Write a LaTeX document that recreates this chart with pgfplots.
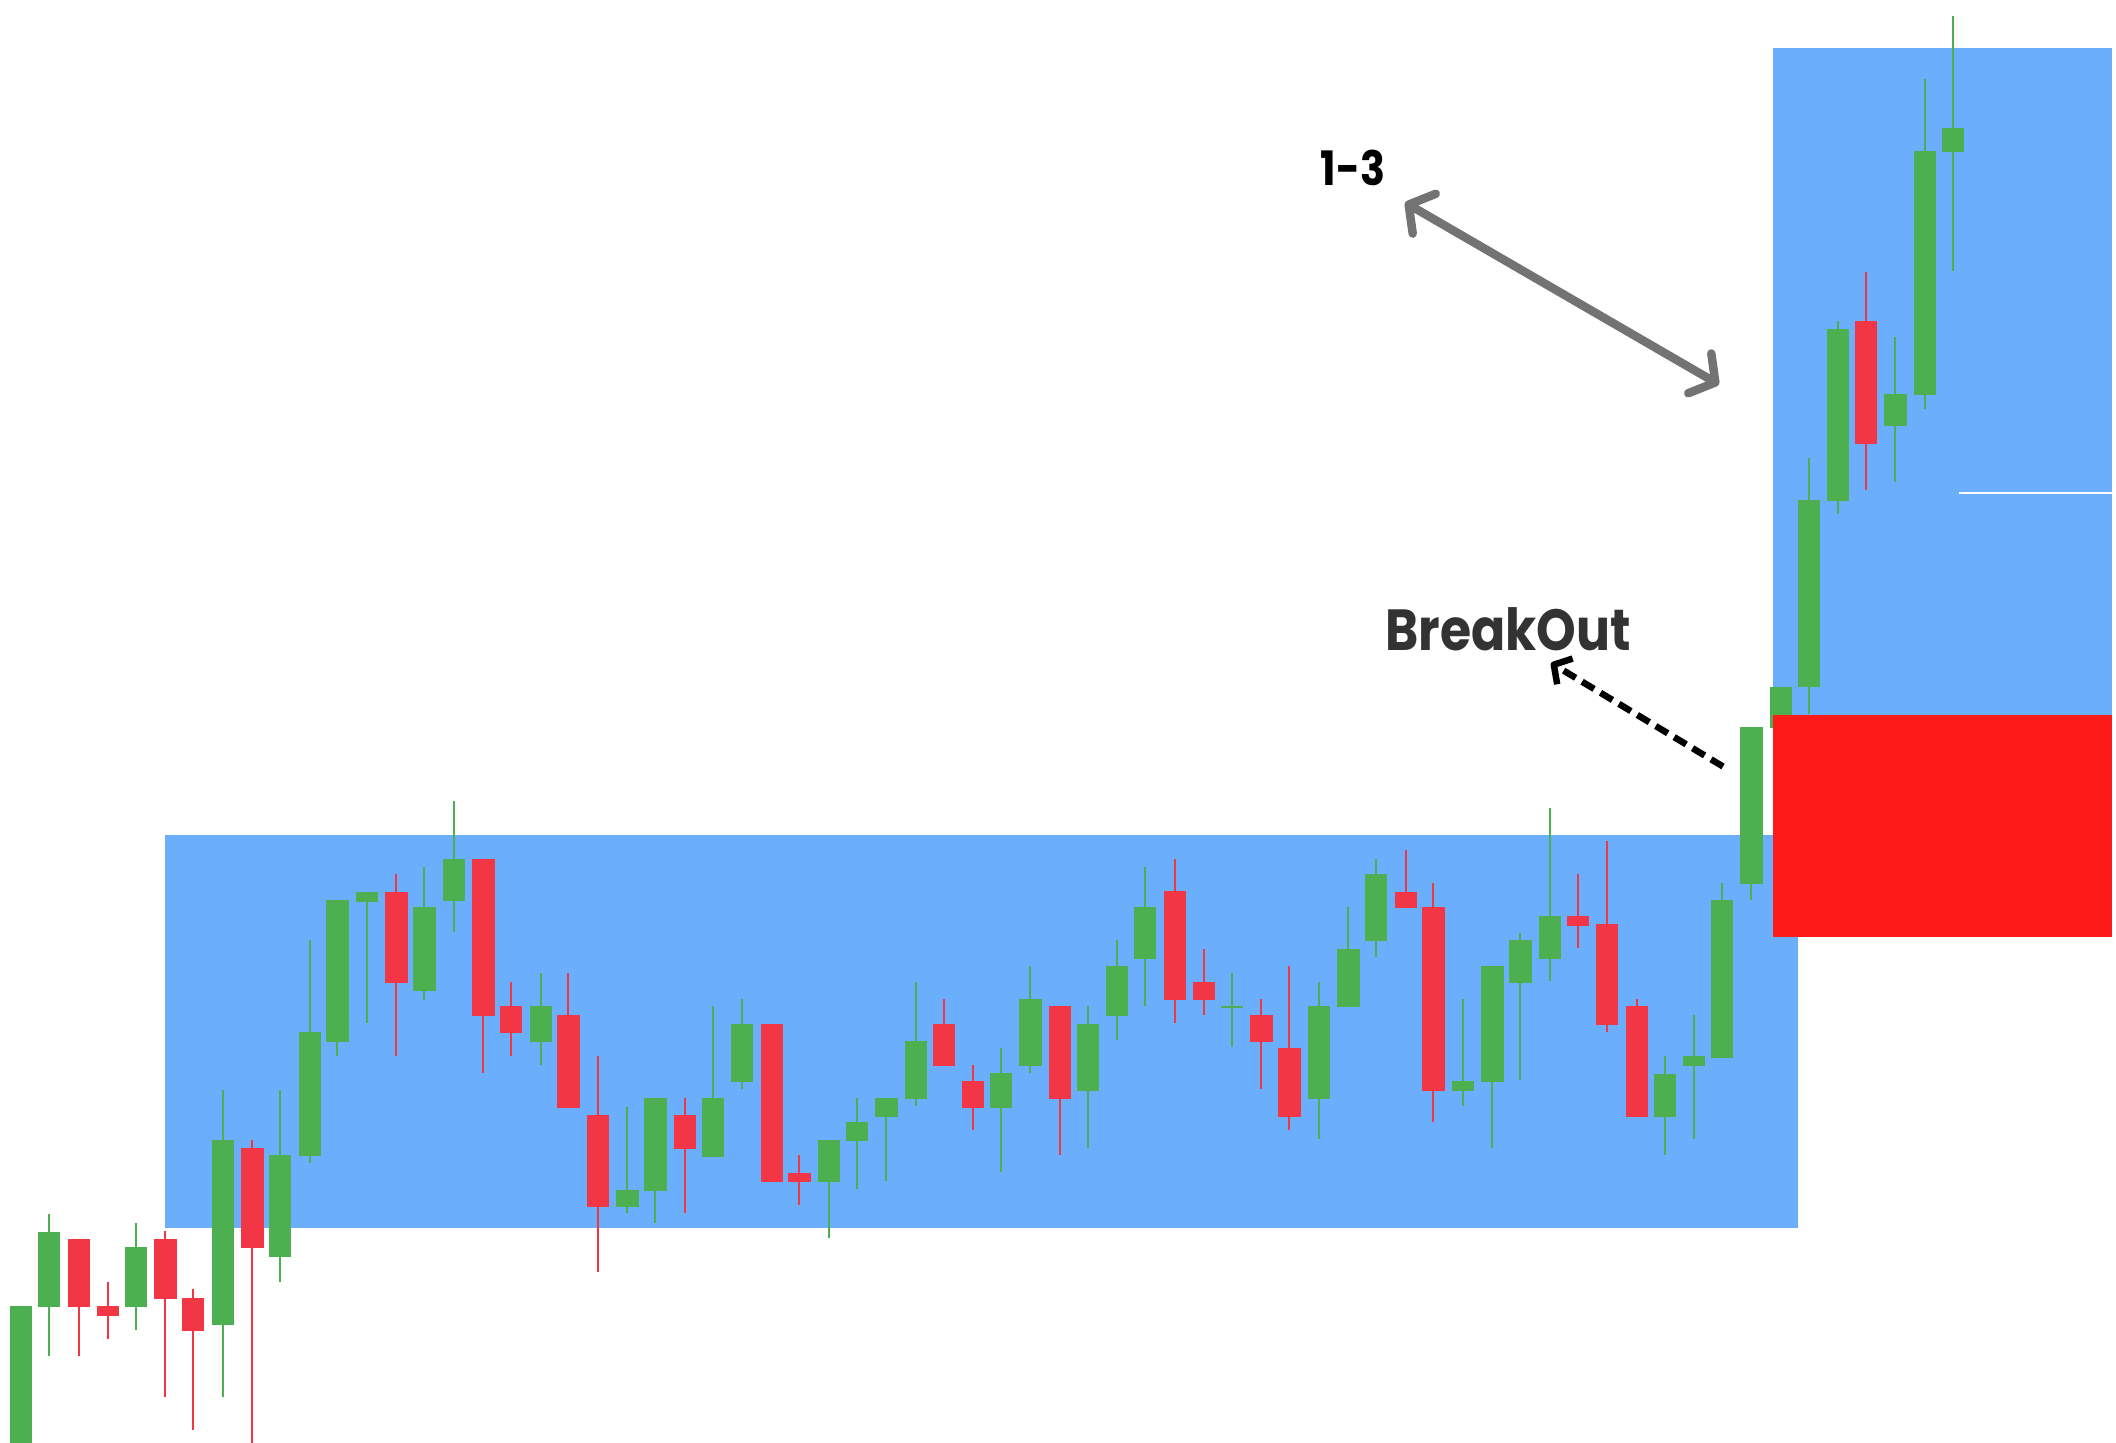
\documentclass[border=0pt]{standalone}
\usepackage{pgfplots}
\pgfplotsset{compat=1.18}
\usepackage{pgfplotstable}
\usepackage{fontspec}
\usetikzlibrary{arrows.meta}
\newfontfamily\poppins{Poppins}[FakeStretch=0.87]
\definecolor{cgreen}{RGB}{76,175,80}
\definecolor{cred}{RGB}{242,54,69}
\definecolor{boxblue}{RGB}{107,174,251}
\definecolor{boxred}{RGB}{255,26,26}
\definecolor{arrgray}{RGB}{115,115,115}
\definecolor{txtdark}{RGB}{51,51,51}

% pixel-space candles: x, high, body top, body bottom, low (y grows downward)
\pgfplotstableread{
x h bt bb l
21 1306 1306 1450 1450
49 1214 1232 1307 1356
135.7 1222.5 1247 1307 1329.7
222.7 1089.5 1139.7 1324.6 1397
280 1089.5 1155 1257 1281.6
309.7 940.4 1032 1156 1163
337.3 900 900 1042 1055.7
366.7 891.5 891.5 901.6 1022.8
424.3 867.3 907 991.3 1000
453.7 801.3 858.7 901.3 932.3
540.7 973 1006 1042 1064.7
627.3 1106.7 1190 1206.7 1213.3
655.3 1098 1098 1191 1222.7
712.7 1006 1098 1156.7 1156.7
742 999 1023.7 1081.7 1088.7
829 1139.7 1139.7 1182.3 1238
856.7 1098 1122 1140.7 1189.3
886.3 1098 1098 1116.7 1181
915.7 981.7 1040.7 1099.3 1106
1001 1047.7 1073.3 1108 1172
1030.3 966 999 1066 1073.3
1087.7 1006 1023.7 1090.7 1147.7
1117 940.3 966 1016 1040
1145 867.3 907 959 1005.7
1232 973.3 1005.5 1007.5 1047.3
1319 981.7 1006 1099.3 1139
1348.3 907 949 1007.3 1007.3
1376 858.7 874.3 941.3 956.7
1463 999 1080.7 1090.7 1106
1492.3 966 966 1082 1147.7
1520.3 933.3 940.3 983 1080
1549.7 808.3 915.7 958.7 981
1664.7 1056.3 1073.7 1116.7 1154.7
1694 1014.7 1056.4 1066 1138.7
1721.7 883 900.3 1057.6 1057.6
1751.3 726.5 726.5 883.8 899.5
1780.7 686.7 686.7 727.7 727.7
1808.7 457.7 499.5 687.3 714
1838 321.4 329.2 500.5 514.2
1895.3 336.5 393.5 426 482
1925 79.4 150.6 394.9 408.6
1952.7 16 128.1 152 270.9
}\greendata

\pgfplotstableread{
x h bt bb l
78.7 1238.5 1238.5 1307 1356
108 1281.6 1306 1316 1338.5
165.3 1231 1238.5 1298.5 1397
193 1288.7 1297.6 1331.4 1430
252.3 1139.7 1148 1248 1445
396.3 874 891.5 983 1055.7
483.3 858.7 858.7 1016 1073.3
511 981.7 1006 1033.3 1056
568.3 973 1014.7 1108 1108
598 1056 1115.3 1206.7 1272.3
684.7 1098 1115.3 1149.3 1213.3
771.7 1023.7 1023.7 1182.3 1182.3
799.3 1155 1172.7 1182.3 1204.7
943.7 999 1023.7 1066 1066
973 1064.7 1080.7 1108 1130
1060 1006 1006 1099.3 1154.7
1174.7 858.7 891.3 1000.3 1023.3
1204 949 981.7 1000.3 1014.7
1261.3 999 1014.7 1042 1088.7
1289.3 966 1047.7 1116.7 1130
1405.7 849.7 891.7 908.3 908.3
1433.3 883 907 1090.7 1121.7
1577.7 874.3 915.7 925.7 948.3
1607 841 924.3 1024.7 1031.7
1636.7 999 1006 1116.7 1116.7
1866 271.8 321 443.5 490.4
}\reddata

\pgfplotsset{
  candle/.style n args={2}{draw=none, mark=none, forget plot,
    error bars/.cd, y dir=both, y explicit, error mark=none,
    error bar style={draw=#1, line width=#2, line cap=butt}},
}

\begin{document}
\begin{tikzpicture}
\begin{axis}[
  scale only axis, width=21.16cm, height=14.42cm,
  xmin=0, xmax=2116, ymin=0, ymax=1442, y dir=reverse,
  hide axis, clip=true,
]
% background
\addplot[draw=none, fill=white] coordinates {(0,0)(2116,0)(2116,1442)(0,1442)} -- cycle;
% range boxes
\addplot[draw=none, fill=boxblue] coordinates {(165,835)(1798,835)(1798,1228)(165,1228)} -- cycle;
\addplot[draw=none, fill=boxblue] coordinates {(1773,48)(2112,48)(2112,716)(1773,716)} -- cycle;
\addplot[white, line width=0.2mm] coordinates {(1959,492.5)(2112,492.5)};

% green wicks and bodies
\addplot[candle={cgreen}{0.22mm}]
  table[x=x, y expr={(\thisrow{h}+\thisrow{l})/2}, y error expr={(\thisrow{l}-\thisrow{h})/2}] {\greendata};
\addplot[candle={cgreen}{2.24mm}]
  table[x=x, y expr={(\thisrow{bt}+\thisrow{bb})/2}, y error expr={(\thisrow{bb}-\thisrow{bt})/2}] {\greendata};
% red wicks and bodies
\addplot[candle={cred}{0.22mm}]
  table[x=x, y expr={(\thisrow{h}+\thisrow{l})/2}, y error expr={(\thisrow{l}-\thisrow{h})/2}] {\reddata};
\addplot[candle={cred}{2.24mm}]
  table[x=x, y expr={(\thisrow{bt}+\thisrow{bb})/2}, y error expr={(\thisrow{bb}-\thisrow{bt})/2}] {\reddata};

% red zone
\addplot[draw=none, fill=boxred] coordinates {(1773,715)(2112,715)(2112,937)(1773,937)} -- cycle;

% annotations
\draw[arrgray, line width=0.85mm, line cap=round,
  {Straight Barb[length=1.8mm, width=4.6mm, line cap=round, line join=round]}-{Straight Barb[length=1.8mm, width=4.6mm, line cap=round, line join=round]}]
  (axis cs:1405,202.5) -- (axis cs:1719,384.5);
\draw[black, line width=0.65mm, dash pattern=on 1.4mm off 0.75mm,
  -{Straight Barb[length=1.3mm, width=3mm, line join=round]}]
  (axis cs:1723,766.5) -- (axis cs:1551,663);
\node[font=\poppins\bfseries\fontsize{13.5pt}{15pt}\selectfont, text=black, inner sep=0pt] at (axis cs:1353,168) {1-3};
\node[font=\poppins\bfseries\fontsize{16.5pt}{18pt}\selectfont, text=txtdark, inner sep=0pt] at (axis cs:1508,629) {BreakOut};
\end{axis}
\end{tikzpicture}
\end{document}
